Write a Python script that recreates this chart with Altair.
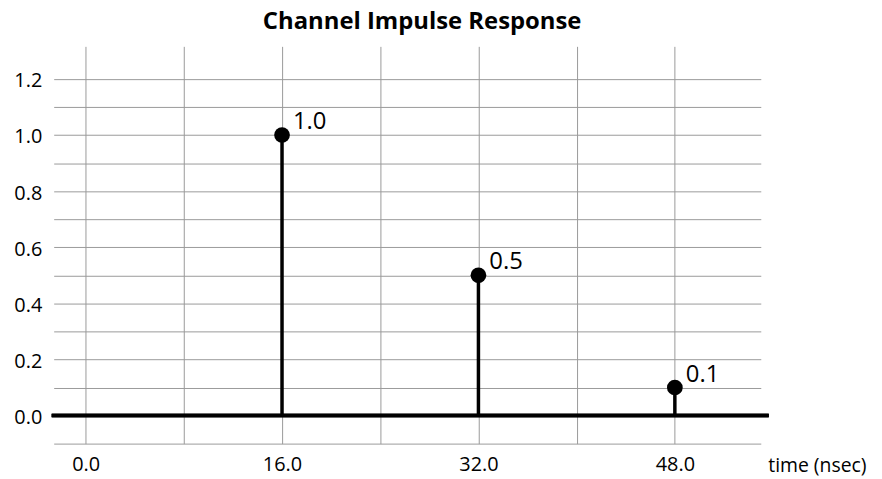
import altair as alt
import pandas as pd

times = [16, 32, 48]
values = [1.0, 0.5, 0.1]
labels = ["1.0", "0.5", "0.1"]

x_grid = [0, 8, 16, 24, 32, 40, 48]
y_grid = [-0.1, 0.0, 0.1, 0.2, 0.3, 0.4, 0.5, 0.6, 0.7, 0.8, 0.9, 1.0, 1.1, 1.2]
y_labels = [0.0, 0.2, 0.4, 0.6, 0.8, 1.0, 1.2]

df = pd.DataFrame({"t": times, "v": values, "lab": labels, "z": [0.0] * len(times)})

FONT = "Open Sans"
W, H = 712, 400

xs = alt.Scale(domain=[-2.6, 55], nice=False, zero=False)
ys = alt.Scale(domain=[-0.1, 1.316], nice=False, zero=False)

xaxis = alt.Axis(
    values=x_grid,
    labelExpr="(round(datum.value) % 16 == 0) ? format(datum.value, '.1f') : ''",
    labelOverlap=False,
    title="time (nsec)",
    titleX=719, titleY=22, titleAlign="left", titleBaseline="middle",
    titleFontWeight="normal", titleFontSize=19.5, titleFont=FONT, titleColor="#000",
    labelFont=FONT, labelFontSize=20, labelColor="#000", labelPadding=11,
    tickSize=0, domain=False, grid=True, gridColor="#9a9a9a", gridWidth=1,
)
ygrid_axis = alt.Axis(
    orient="right", values=y_grid, labels=False, ticks=False, domain=False, title=None,
    grid=True, gridColor="#9a9a9a", gridWidth=1,
)
ylabel_axis = alt.Axis(
    orient="left", values=y_labels, format=".1f", labelOverlap=False, title=None,
    labelFont=FONT, labelFontSize=20, labelColor="#000", labelPadding=12, labelOffset=2,
    tickSize=0, ticks=False, domain=False, grid=False,
)

base = alt.Chart(df)

stems = base.mark_rule(color="black", strokeWidth=3.5).encode(
    x=alt.X("t:Q", scale=xs, axis=xaxis),
    y=alt.Y("v:Q", scale=ys, axis=ygrid_axis),
    y2=alt.Y2("z:Q"),
)

zero_line = base.mark_rule(color="black", strokeWidth=3.5).encode(
    x=alt.value(-2), x2=alt.value(720), y=alt.Y("z:Q", scale=ys, axis=ylabel_axis)
)

dots = base.mark_circle(color="black", size=250, opacity=1).encode(
    x=alt.X("t:Q", scale=xs), y=alt.Y("v:Q", scale=ys, axis=None)
)

text = base.mark_text(
    align="left", baseline="middle", dx=11, dy=-13, fontSize=24, font=FONT, color="black"
).encode(
    x=alt.X("t:Q", scale=xs), y=alt.Y("v:Q", scale=ys, axis=None), text="lab:N"
)

chart = alt.layer(stems, zero_line, dots, text).resolve_axis(y="independent").properties(
    width=W, height=H,
    title=alt.TitleParams(
        "Channel Impulse Response", fontSize=24, font=FONT, fontWeight="bold",
        anchor="middle", offset=12, dx=15, color="black",
    ),
    autosize=alt.AutoSizeParams(type="none"),
    padding={"left": 46, "top": 37, "right": 114, "bottom": 32},
).configure_view(stroke=None)

chart.save("out.html", embed_options={"renderer": "svg", "actions": False})
